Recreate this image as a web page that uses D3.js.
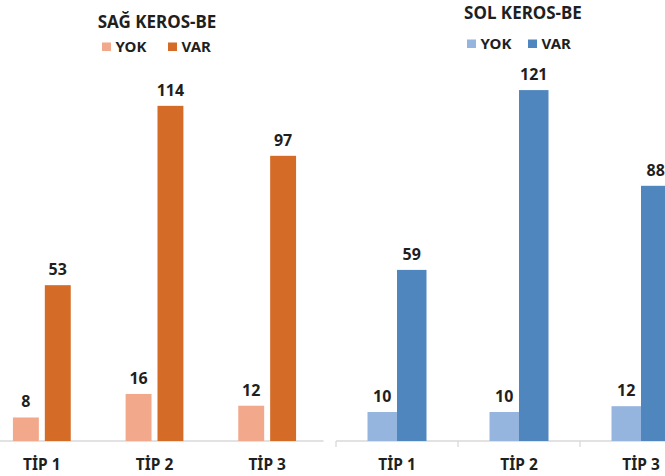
<!DOCTYPE html>
<html>
<head>
<meta charset="utf-8">
<script src="https://cdn.jsdelivr.net/npm/d3@7/dist/d3.min.js"></script>
<style>
  html, body { margin: 0; padding: 0; background: #fff; }
  svg { display: block; font-family: "Noto Sans", "Open Sans", sans-serif; }
</style>
</head>
<body>
<svg id="chart" width="665" height="476"></svg>
<script>
// Categories and series shared by both panels
const categories = ["TİP 1", "TİP 2", "TİP 3"];
const series = ["YOK", "VAR"];

// Right side (SAĞ) counts
const sagYok = [8, 16, 12];
const sagVar = [53, 114, 97];

// Left side (SOL) counts
const solYok = [10, 10, 12];
const solVar = [59, 121, 88];

const svg = d3.select("#chart");
const textColor = "#1f1f1f";

function panel(cfg) {
  const g = svg.append("g");
  const rows = categories.map((c, i) => ({ cat: c, values: { YOK: cfg.yok[i], VAR: cfg.var[i] } }));

  const x0 = d3.scaleBand().domain(categories).range([cfg.left, cfg.right]).padding(0);
  const x1 = d3.scaleBand().domain(series).range([0, x0.bandwidth()])
    .paddingInner(cfg.innerPad).paddingOuter(cfg.outerPad);
  const y = d3.scaleLinear().domain([0, 140]).range([cfg.base, cfg.base - 140 * cfg.pxPerUnit]);
  const color = d3.scaleOrdinal().domain(series).range(cfg.colors);

  // category axis
  const axis = d3.axisBottom(x0).tickSize(0).tickPadding(0).tickFormat("");
  const ag = g.append("g").attr("transform", `translate(0,${cfg.base})`).call(axis);
  ag.select(".domain").attr("stroke", "#d9d9d9").attr("stroke-width", 1.3)
    .attr("d", `M${cfg.left},0H${cfg.right}`);
  if (cfg.ticks) {
    const edges = categories.map(c => x0(c)).concat([x0(categories[categories.length - 1]) + x0.bandwidth()]);
    ag.selectAll(".sep").data(edges).join("line").attr("class", "sep")
      .attr("x1", d => d).attr("x2", d => d).attr("y1", 0).attr("y2", 6)
      .attr("stroke", "#d9d9d9").attr("stroke-width", 1.3);
  }
  ag.selectAll(".tick").remove();
  g.selectAll(".cat").data(categories).join("text").attr("class", "cat")
    .attr("x", d => x0(d) + x0.bandwidth() / 2).attr("y", cfg.base + 29)
    .attr("text-anchor", "middle").attr("font-size", 15.5).attr("font-weight", 700)
    .attr("fill", textColor).text(d => d);

  // bars and value labels
  const grp = g.selectAll(".grp").data(rows).join("g").attr("class", "grp")
    .attr("transform", d => `translate(${x0(d.cat)},0)`);
  const items = d => series.map(s => ({ s, v: d.values[s] }));
  grp.selectAll("rect").data(items).join("rect")
    .attr("x", d => x1(d.s)).attr("width", x1.bandwidth())
    .attr("y", d => y(d.v)).attr("height", d => y(0) - y(d.v))
    .attr("fill", d => color(d.s));
  grp.selectAll("text").data(items).join("text")
    .attr("x", d => x1(d.s) + x1.bandwidth() / 2).attr("y", d => y(d.v) - 10)
    .attr("text-anchor", "middle").attr("font-size", 16).attr("font-weight", 700)
    .attr("fill", textColor).text(d => d.v);

  // title
  g.append("text").attr("x", cfg.titleX).attr("y", cfg.titleY)
    .attr("text-anchor", "middle").attr("font-size", 17).attr("font-weight", 700)
    .attr("fill", textColor).text(cfg.title);

  // legend
  const lg = g.selectAll(".lg").data(series).join("g").attr("class", "lg")
    .attr("transform", (d, i) => `translate(${cfg.legendX[i]},${cfg.legendY})`);
  lg.append("rect").attr("x", 0).attr("y", -9).attr("width", 9).attr("height", 8.5)
    .attr("fill", d => color(d));
  lg.append("text").attr("x", 13.5).attr("y", 0.5).attr("font-size", 15).attr("font-weight", 700)
    .attr("fill", textColor).text(d => d);
}

panel({
  title: "SAĞ KEROS-BE", yok: sagYok, var: sagVar,
  left: -14.5, right: 323.5, base: 441, pxPerUnit: 2.94,
  innerPad: 0.1875, outerPad: 0.86, ticks: false,
  colors: ["#f2a88a", "#d46b26"],
  titleX: 157, titleY: 28, legendX: [102, 168], legendY: 51.5
});

panel({
  title: "SOL KEROS-BE", yok: solYok, var: solVar,
  left: 336, right: 702, base: 441, pxPerUnit: 2.9,
  innerPad: 0, outerPad: 1.068, ticks: true,
  colors: ["#95b4de", "#4f86be"],
  titleX: 523, titleY: 19, legendX: [467, 528], legendY: 48.5
});
</script>
</body>
</html>
